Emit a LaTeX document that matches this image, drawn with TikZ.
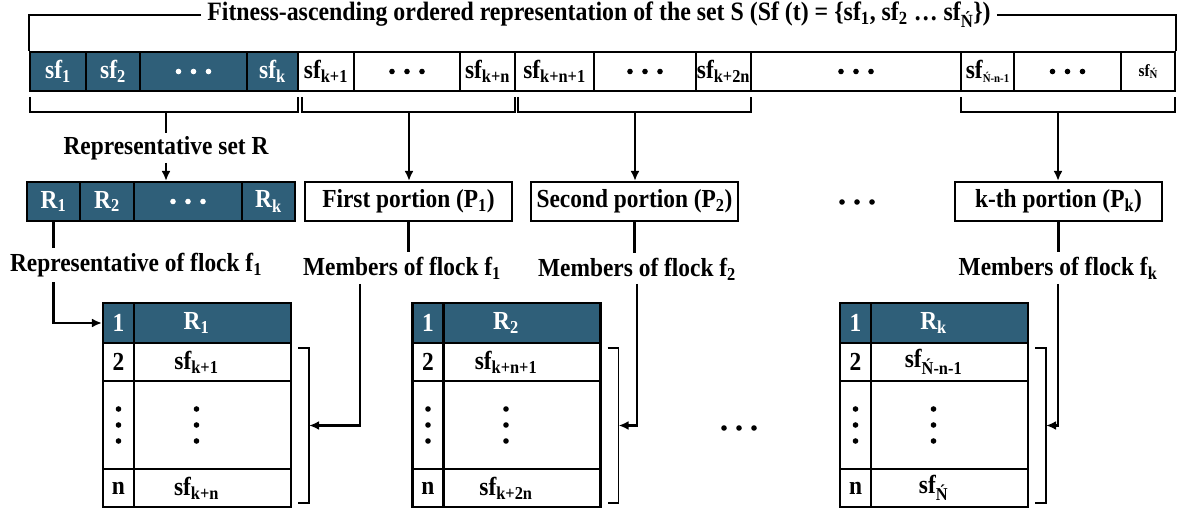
\documentclass[tikz,border=0pt]{standalone}
\usepackage{fontspec}
\setmainfont{Liberation Serif}[FakeStretch=0.9]
\usetikzlibrary{arrows.meta,calc}
\definecolor{flock}{HTML}{2F5F79}
\newcommand\sbs[1]{\textsubscript{#1}}
\newcommand\tinysub[1]{\raisebox{-0.35ex}{\fontsize{12}{12}\selectfont #1}}
% a rectangular cell from x=#2..#3 and y=#4..#5 (y grows downward)
\newcommand\mkcell[7]{%
  \node[#6, minimum width={((#3)-(#2))*1pt}, minimum height={((#5)-(#4))*1pt}]
    (#1) at ({((#2)+(#3))/2},{((#4)+(#5))/2}) {#7};}
% three dots, horizontal or vertical, around a node centre
\newcommand\threeh[2][black]{\foreach \d in {-15,0,15} \fill[#1] ([xshift=\d pt]#2) circle (2.8pt);}
\newcommand\threev[1]{\foreach \d in {-16,0,16} \fill ([yshift=\d pt]#1) circle (2.8pt);}
% one flock table: prefix, left edge, header, second row, last row
\newcommand\mktable[5]{%
  \mkcell{#1h1}{#2}{#2+31}{303}{343}{cellD}{1}
  \mkcell{#1h2}{#2+31}{#2+188}{303}{343}{cellD}{}
  \mkcell{#1a1}{#2}{#2+31}{343}{381}{cellW}{2}
  \mkcell{#1a2}{#2+31}{#2+188}{343}{381}{cellW}{}
  \mkcell{#1b1}{#2}{#2+31}{381}{469}{cellW}{}
  \mkcell{#1b2}{#2+31}{#2+188}{381}{469}{cellW}{}
  \mkcell{#1c1}{#2}{#2+31}{469}{507}{cellW}{n}
  \mkcell{#1c2}{#2+31}{#2+188}{469}{507}{cellW}{}
  \node[text=white] (#1ht) at ([xshift=-16pt]#1h2.center) {#3};
  \node (#1at) at ([xshift=-16pt]#1a2.center) {#4};
  \node (#1ct) at ([xshift=-16pt]#1c2.center) {#5};
  \coordinate (#1bd) at ([xshift=-16pt]#1b2.center);
  \threev{#1b1.center}
  \threev{#1bd}
  \draw[line width=1.6pt] ($(#1a2.north east |- 0,348)+(6,0)$) -- ++(11,0) coordinate (#1kt)
        -- ++(0,155) coordinate (#1kb) -- ++(-11,0);
  \coordinate (#1k) at ($(#1kt)!0.5!(#1kb)$);}

\begin{document}
\begin{tikzpicture}[x=1pt,y=-1pt,line width=2.2pt,
  font=\bfseries\fontsize{26}{28}\selectfont,
  cellD/.style={draw=black,fill=flock,text=white,inner sep=0pt},
  cellW/.style={draw=black,fill=white,inner sep=0pt},
  lbl/.style={inner xsep=0pt,inner ysep=4pt},
  portion/.style={draw=black,fill=white,inner sep=0pt,minimum width=207pt,minimum height=39pt},
  arr/.style={-{Latex[length=10pt,width=9pt]}}]
\useasboundingbox (0,0) rectangle (1180,510);

% ordered set of all individuals
\mkcell{d1}{30}{86}{52}{91}{cellD}{sf\sbs{1}}
\mkcell{d2}{86}{140}{52}{91}{cellD}{sf\sbs{2}}
\mkcell{d3}{140}{247}{52}{91}{cellD}{}
\mkcell{d4}{247}{298}{52}{91}{cellD}{sf\sbs{k}}
\mkcell{w1}{298}{354}{52}{91}{cellW}{sf\sbs{k+1}}
\mkcell{w2}{354}{460}{52}{91}{cellW}{}
\mkcell{w3}{460}{515}{52}{91}{cellW}{sf\sbs{k+n}}
\mkcell{w4}{515}{594}{52}{91}{cellW}{sf\sbs{k+n+1}}
\mkcell{w5}{594}{696}{52}{91}{cellW}{}
\mkcell{w6}{696}{751}{52}{91}{cellW}{sf\sbs{k+2n}}
\mkcell{w7}{751}{961}{52}{91}{cellW}{}
\mkcell{w8}{961}{1014}{52}{91}{cellW}{sf\tinysub{Ń-n-1}}
\mkcell{w9}{1014}{1121}{52}{91}{cellW}{}
\mkcell{w10}{1121}{1175}{52}{91}{cellW}{\fontsize{17}{17}\selectfont sf\tinysub{Ń}}
\threeh[white]{d3.center}
\threeh{w2.center}
\threeh{w5.center}
\threeh{w7.center}
\threeh{w9.center}

% title bracket
\node[fill=white,inner xsep=5pt,inner ysep=0pt,font=\bfseries\fontsize{26.5}{28}\selectfont]
  (title) at (599,15) {Fitness-ascending ordered representation of the set S (Sf (t) = \{sf\sbs{1}, sf\sbs{2} … sf\sbs{Ń}\})};
\draw (title.west) -| (d1.north west);
\draw (title.east) -| (w10.north east);

% groups below the ordered set
\draw (30,97) -- (30,112) -- (298,112) -- (298,97);
\draw (302,97) -- (302,112) -- (515,112) -- (515,97);
\draw (518,97) -- (518,112) -- (751,112) -- (751,97);
\draw (961,97) -- (961,112) -- (1175,112) -- (1175,97);
\coordinate (b1) at (166,112);
\coordinate (b2) at (409,112);
\coordinate (b3) at (635,112);
\coordinate (b4) at (1058,112);

\node[inner xsep=0pt,inner ysep=2pt] (setR) at (166,148) {Representative set R};

% representatives and portions
\mkcell{r1}{27}{80}{182}{221}{cellD}{R\sbs{1}}
\mkcell{r2}{80}{134}{182}{221}{cellD}{R\sbs{2}}
\mkcell{r3}{134}{242}{182}{221}{cellD}{}
\mkcell{r4}{242}{295}{182}{221}{cellD}{R\sbs{k}}
\threeh[white]{r3.center}
\node[portion] (P1) at (408.5,201.5) {First portion (P\sbs{1})};
\node[portion] (P2) at (634.5,201.5) {Second portion (P\sbs{2})};
\node[portion] (Pk) at (1058.5,201.5) {k-th portion (P\sbs{k})};
\coordinate (mdots) at (857,202);
\threeh{mdots}

\draw (b1) -- (setR.north);
\draw[arr] (setR.south) -- (setR.south |- r3.north);
\draw[arr] (b2) -- (b2 |- P1.north);
\draw[arr] (b3) -- (b3 |- P2.north);
\draw[arr] (b4) -- (b4 |- Pk.north);

% labels of the flocks
\node[lbl] (LR) at (136,265) {Representative of flock f\sbs{1}};
\node[lbl] (M1) at (402,268) {Members of flock f\sbs{1}};
\node[lbl] (M2) at (637,269) {Members of flock f\sbs{2}};
\node[lbl] (Mk) at (1058,268) {Members of flock f\sbs{k}};

% flock tables
\mktable{T1}{103}{R\sbs{1}}{sf\sbs{k+1}}{sf\sbs{k+n}}
\mktable{T2}{412.5}{R\sbs{2}}{sf\sbs{k+n+1}}{sf\sbs{k+2n}}
\mktable{T3}{840}{R\sbs{k}}{sf\sbs{Ń-n-1}}{sf\sbs{Ń}}
\coordinate (bdots) at (739,428);
\threeh{bdots}

% connectors to the tables
\coordinate (m1) at (360,284);
\coordinate (m2) at (637,284);
\coordinate (mk) at (1058,284);
\draw (r1.south) -- (r1.south |- LR.north);
\draw[arr] (r1.south |- LR.south) |- (T1h1.west);
\draw (P1.south) -- (P1.south |- M1.north);
\draw (P2.south) -- (P2.south |- M2.north);
\draw (Pk.south) -- (Pk.south |- Mk.north);
\draw[arr] (m1) |- (T1k);
\draw[arr] (m2) |- (T2k);
\draw[arr] (mk) |- (T3k);
\end{tikzpicture}
\end{document}
